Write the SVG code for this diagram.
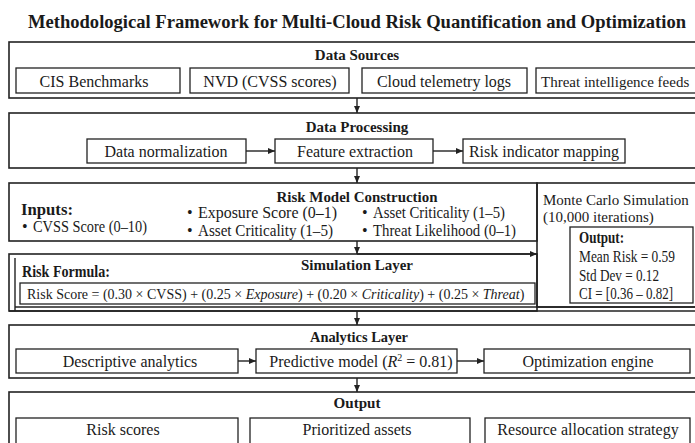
<svg xmlns="http://www.w3.org/2000/svg" width="695" height="443" viewBox="0 0 695 443">
<style>
text{font-family:"Liberation Serif","Times New Roman",serif;fill:#1a1a1a;font-size:16px}
.t{font-weight:bold;font-size:18px;text-anchor:middle}
.h{font-weight:bold;font-size:15px;text-anchor:middle}
.b{font-weight:bold;font-size:16px}
.c{text-anchor:middle}
.s{font-size:16px}
.m{font-size:15px}
.f{font-size:14px}
.sup{font-size:10px}
.outer{fill:none;stroke:#222;stroke-width:1.6}
.inner{fill:none;stroke:#222;stroke-width:1.3}
.ln{fill:none;stroke:#222;stroke-width:1.4}
.i{font-style:italic}
</style>
<defs>
<marker id="ah" markerUnits="userSpaceOnUse" markerWidth="7" markerHeight="6" refX="7" refY="3" orient="auto">
<path d="M0,0 L7,3 L0,6 z" fill="#222"/>
</marker>
</defs>
<rect width="695" height="443" fill="#fff"/>
<text id="title" class="t" x="357" y="28" textLength="658" lengthAdjust="spacingAndGlyphs">Methodological Framework for Multi-Cloud Risk Quantification and Optimization</text>

<g id="data-sources">
<rect class="outer" x="9" y="42" width="700" height="56"/>
<text class="h" x="357" y="60">Data Sources</text>
<rect class="inner" x="16" y="68" width="164" height="25"/>
<text class="c" x="94" y="87">CIS Benchmarks</text>
<rect class="inner" x="190" y="68" width="159" height="25"/>
<text class="c" x="270" y="87">NVD (CVSS scores)</text>
<rect class="inner" x="362" y="68" width="165" height="25"/>
<text class="c" x="444" y="87">Cloud telemetry logs</text>
<rect class="inner" x="536" y="68" width="170" height="25"/>
<text class="m" x="541" y="87">Threat intelligence feeds</text>
</g>

<g id="data-processing">
<rect class="outer" x="9" y="113" width="700" height="55"/>
<text class="h" x="357" y="132">Data Processing</text>
<rect class="inner" x="87" y="139" width="159" height="24"/>
<text class="c" x="166" y="157">Data normalization</text>
<rect class="inner" x="275" y="139" width="158" height="24"/>
<text class="c" x="355" y="157">Feature extraction</text>
<rect class="inner" x="463" y="139" width="162" height="24"/>
<text class="c" x="544" y="157">Risk indicator mapping</text>
</g>

<g id="risk-model">
<rect class="outer" x="9" y="183" width="528" height="58"/>
<text class="h" x="357" y="202" textLength="161" lengthAdjust="spacingAndGlyphs">Risk Model Construction</text>
<text class="b" x="21" y="215" textLength="52" lengthAdjust="spacingAndGlyphs">Inputs:</text>
<text class="s" x="22" y="232">•</text><text class="s" x="33" y="232" textLength="114" lengthAdjust="spacingAndGlyphs">CVSS Score (0–10)</text>
<text class="s" x="187" y="218">•</text><text class="s" x="198" y="218" textLength="139" lengthAdjust="spacingAndGlyphs">Exposure Score (0–1)</text>
<text class="s" x="187" y="236">•</text><text class="s" x="198" y="236" textLength="135" lengthAdjust="spacingAndGlyphs">Asset Criticality (1–5)</text>
<text class="s" x="362" y="218">•</text><text class="s" x="373" y="218" textLength="132" lengthAdjust="spacingAndGlyphs">Asset Criticality (1–5)</text>
<text class="s" x="362" y="236">•</text><text class="s" x="373" y="236" textLength="143" lengthAdjust="spacingAndGlyphs">Threat Likelihood (0–1)</text>
</g>

<g id="monte-carlo">
<rect class="outer" x="537" y="183" width="170" height="124"/>
<text class="m" x="543" y="205">Monte Carlo Simulation</text>
<text class="m" x="543" y="222">(10,000 iterations)</text>
<rect class="inner" x="570" y="227" width="123" height="76"/>
<text class="b" x="579" y="243" textLength="45" lengthAdjust="spacingAndGlyphs">Output:</text>
<text class="s" x="579" y="262" textLength="96" lengthAdjust="spacingAndGlyphs">Mean Risk = 0.59</text>
<text class="s" x="579" y="281" textLength="80" lengthAdjust="spacingAndGlyphs">Std Dev = 0.12</text>
<text class="s" x="579" y="299" textLength="94" lengthAdjust="spacingAndGlyphs">CI = [0.36 – 0.82]</text>
</g>

<g id="simulation-layer">
<rect class="outer" x="9" y="254" width="528" height="57"/>
<line class="ln" x1="15" y1="258" x2="15" y2="311"/>
<line class="ln" x1="15" y1="307" x2="700" y2="307"/>
<line class="outer" x1="9" y1="311" x2="700" y2="311"/>
<text class="h" x="357" y="270" textLength="112" lengthAdjust="spacingAndGlyphs">Simulation Layer</text>
<text class="b" x="22" y="277" textLength="88" lengthAdjust="spacingAndGlyphs">Risk Formula:</text>
<rect class="inner" x="20" y="283" width="515" height="21"/>
<text class="f" x="27" y="299">Risk Score = (0.30 × CVSS) + (0.25 × <tspan class="i">Exposure</tspan>) + (0.20 × <tspan class="i">Criticality</tspan>) + (0.25 × <tspan class="i">Threat</tspan>)</text>
</g>

<g id="analytics-layer">
<rect class="outer" x="9" y="325" width="700" height="53"/>
<text class="h" x="359" y="342" textLength="98" lengthAdjust="spacingAndGlyphs">Analytics Layer</text>
<rect class="inner" x="16" y="349" width="222" height="24"/>
<text class="c" x="130" y="367">Descriptive analytics</text>
<rect class="inner" x="256" y="349" width="201" height="24"/>
<text class="c" x="361" y="367">Predictive model (<tspan class="i">R</tspan><tspan class="sup" dy="-6">2</tspan><tspan dy="6"> = 0.81)</tspan></text>
<rect class="inner" x="484" y="349" width="206" height="24"/>
<text class="c" x="588" y="367">Optimization engine</text>
</g>

<g id="output">
<rect class="outer" x="9" y="392" width="700" height="60"/>
<text class="h" x="357" y="408" textLength="47" lengthAdjust="spacingAndGlyphs">Output</text>
<rect class="inner" x="16" y="418" width="222" height="30"/>
<text class="c" x="123" y="435">Risk scores</text>
<rect class="inner" x="250" y="418" width="220" height="30"/>
<text class="c" x="357" y="435">Prioritized assets</text>
<rect class="inner" x="485" y="418" width="205" height="30"/>
<text class="c" x="588" y="435">Resource allocation strategy</text>
</g>

<g id="connectors">
<line class="ln" x1="357" y1="98" x2="357" y2="113" marker-end="url(#ah)"/>
<line class="ln" x1="357" y1="168" x2="357" y2="183" marker-end="url(#ah)"/>
<line class="ln" x1="357" y1="241" x2="357" y2="254" marker-end="url(#ah)"/>
<line class="ln" x1="357" y1="311" x2="357" y2="325" marker-end="url(#ah)"/>
<line class="ln" x1="357" y1="378" x2="357" y2="392" marker-end="url(#ah)"/>
<line class="ln" x1="246" y1="151" x2="275" y2="151" marker-end="url(#ah)"/>
<line class="ln" x1="433" y1="151" x2="463" y2="151" marker-end="url(#ah)"/>
<line class="ln" x1="357" y1="254" x2="537" y2="254" marker-end="url(#ah)"/>
<line class="ln" x1="238" y1="361" x2="256" y2="361" marker-end="url(#ah)"/>
<line class="ln" x1="457" y1="361" x2="484" y2="361" marker-end="url(#ah)"/>
</g>
</svg>
